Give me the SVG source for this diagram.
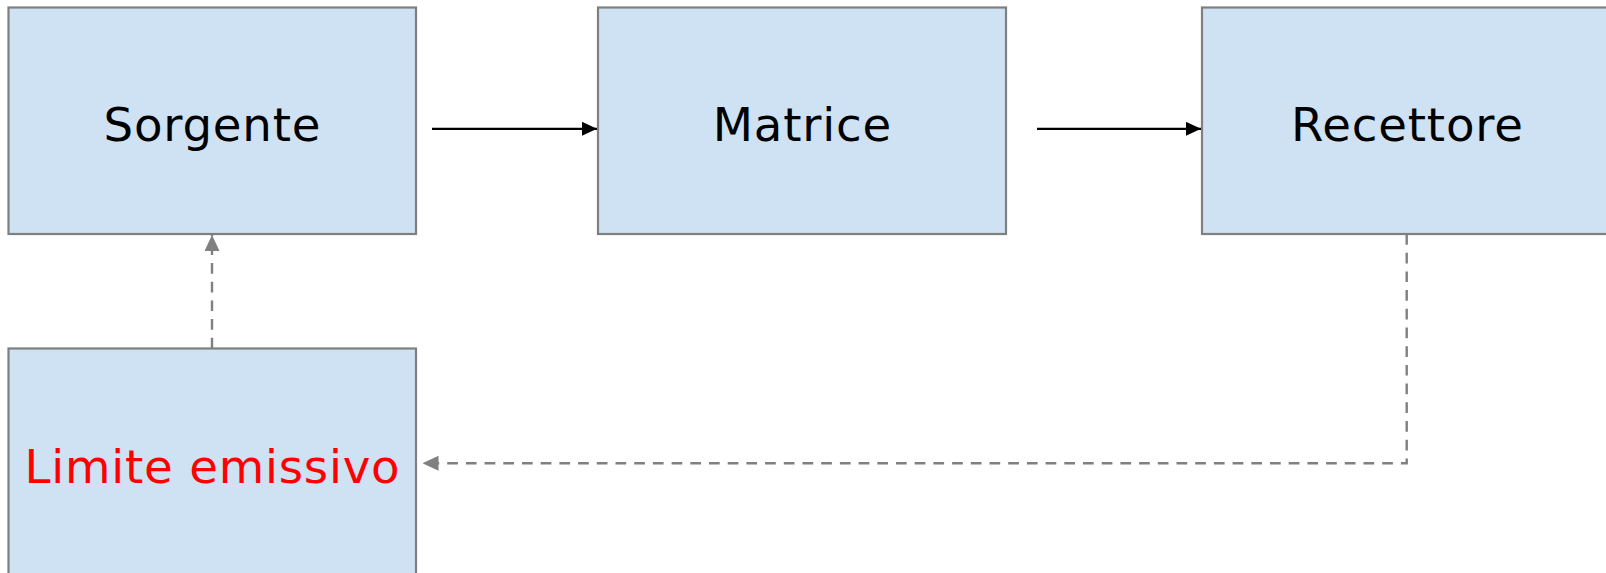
<svg xmlns="http://www.w3.org/2000/svg" width="1606" height="573" viewBox="0 0 1606 573">
  <defs>
    <style>
      .box { fill: #cfe2f3; stroke: #7f7f7f; stroke-width: 2.2; }
      .lbl { font-family: "DejaVu Sans", Verdana, sans-serif; font-size: 46.67px; letter-spacing: 0.8px; text-anchor: middle; fill: #000000; }
      .red { fill: #ff0000; }
      .solid { stroke: #000000; stroke-width: 2.2; fill: none; }
      .dash { stroke: #808080; stroke-width: 2.4; fill: none; stroke-dasharray: 10.7 8; }
    </style>
    <marker id="ah" markerUnits="userSpaceOnUse" markerWidth="15" markerHeight="14" refX="15" refY="7" orient="auto">
      <path d="M0,0 L15,7 L0,14 z" fill="#000000"/>
    </marker>
    <marker id="ahg" markerUnits="userSpaceOnUse" markerWidth="16" markerHeight="15" refX="16" refY="7.5" orient="auto">
      <path d="M0,0 L16,7.5 L0,15 z" fill="#808080"/>
    </marker>
  </defs>
  <g id="sorgente">
    <rect class="box" x="8.5" y="7.5" width="407.5" height="226.5"/>
    <text class="lbl" x="212.4" y="140.7">Sorgente</text>
  </g>
  <g id="matrice">
    <rect class="box" x="598" y="7.5" width="408" height="226.5"/>
    <text class="lbl" x="802.4" y="140.7">Matrice</text>
  </g>
  <g id="recettore">
    <rect class="box" x="1202" y="7.5" width="410" height="226.5"/>
    <text class="lbl" x="1407.4" y="140.7">Recettore</text>
  </g>
  <g id="limite">
    <rect class="box" x="8.5" y="348.5" width="407.5" height="230"/>
    <text class="lbl red" x="212.4" y="482.7">Limite emissivo</text>
  </g>
  <g id="connectors">
    <line class="solid" x1="432" y1="128.8" x2="597" y2="128.8" marker-end="url(#ah)"/>
    <line class="solid" x1="1037" y1="128.8" x2="1201" y2="128.8" marker-end="url(#ah)"/>
    <line class="dash" x1="212" y1="348.5" x2="212" y2="235" marker-end="url(#ahg)"/>
    <polyline class="dash" points="1406.7,234 1406.7,463.3 422.5,463.3" marker-end="url(#ahg)"/>
  </g>
</svg>
